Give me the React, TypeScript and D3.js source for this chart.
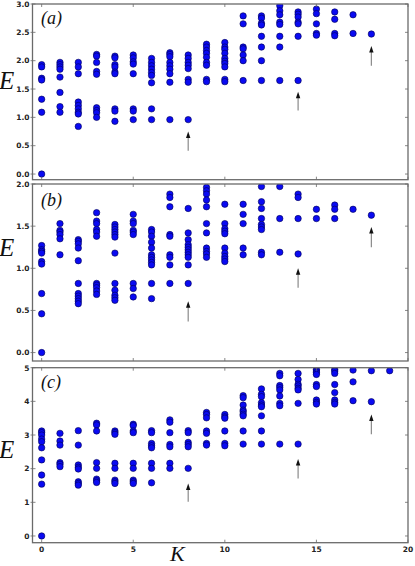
import React from 'react'
import * as d3 from 'd3'

// energies per K (index = K)
const energiesA = [
  [1.93, 1.89, 1.69, 1.66, 1.32, 1.09, 0.0],
  [1.97, 1.93, 1.89, 1.85, 1.71, 1.44, 1.19, 1.09],
  [1.97, 1.89, 1.77, 1.27, 1.21, 1.15, 1.09, 1.06, 0.84],
  [2.11, 2.08, 1.97, 1.81, 1.76, 1.17, 1.12, 1.08, 1.0],
  [2.08, 2.05, 1.93, 1.89, 1.8, 1.77, 1.15, 1.11, 0.93],
  [2.1, 2.05, 1.98, 1.94, 1.77, 1.15, 1.11, 0.96],
  [2.04, 1.97, 1.91, 1.85, 1.79, 1.74, 1.61, 1.15, 0.96],
  [2.14, 2.11, 2.07, 1.97, 1.91, 1.85, 1.77, 1.62, 0.96],
  [2.1, 2.04, 1.97, 1.92, 1.86, 1.67, 1.62, 0.96],
  [2.29, 2.24, 2.18, 2.13, 2.06, 1.97, 1.92, 1.67, 1.63],
  [2.32, 2.24, 2.2, 2.13, 2.04, 1.99, 1.95, 1.89, 1.67, 1.63],
  [2.79, 2.65, 2.24, 2.21, 2.1, 2.0, 1.65],
  [2.79, 2.75, 2.66, 2.63, 2.43, 2.24, 2.0, 1.65],
  [2.97, 2.88, 2.81, 2.68, 2.64, 2.43, 2.24, 1.65],
  [2.86, 2.82, 2.77, 2.68, 2.65, 2.43, 1.65],
  [2.91, 2.83, 2.65, 2.48, 2.45],
  [2.86, 2.73, 2.48, 2.44],
  [2.81, 2.48],
  [2.47],
]

const energiesB = [
  [1.27, 1.22, 1.2, 1.18, 1.08, 1.05, 0.7, 0.46, 0.0],
  [1.53, 1.45, 1.43, 1.4, 1.35, 1.16],
  [1.34, 1.32, 1.29, 1.24, 1.09, 0.82, 0.7, 0.67, 0.64, 0.61, 0.58],
  [1.66, 1.56, 1.53, 1.46, 1.43, 1.38, 0.82, 0.8, 0.77, 0.73, 0.69],
  [1.52, 1.49, 1.46, 1.43, 1.4, 1.37, 1.18, 0.82, 0.74, 0.68, 0.65, 0.62],
  [1.64, 1.56, 1.53, 1.45, 1.43, 1.4, 0.82, 0.76, 0.66],
  [1.46, 1.43, 1.38, 1.31, 1.24, 1.16, 1.13, 1.1, 1.07, 1.04, 0.82, 0.64],
  [1.88, 1.84, 1.73, 1.4, 1.38, 1.16, 1.13, 1.04, 0.82],
  [1.71, 1.42, 1.34, 1.28, 1.25, 1.22, 1.19, 1.16, 1.13, 1.04, 0.82],
  [1.96, 1.92, 1.88, 1.81, 1.73, 1.53, 1.42, 1.24, 1.2, 1.17, 1.13],
  [1.76, 1.53, 1.47, 1.44, 1.41, 1.24, 1.18, 1.14, 1.11, 1.08],
  [1.76, 1.64, 1.53, 1.24, 1.16],
  [1.97, 1.79, 1.71, 1.59, 1.52, 1.49, 1.46, 1.19, 1.16],
  [1.97, 1.59, 1.19],
  [1.88, 1.84, 1.59, 1.17],
  [1.7, 1.59],
  [1.75, 1.7, 1.59],
  [1.7],
  [1.63],
]

const energiesC = [
  [3.12, 3.07, 3.0, 2.88, 2.8, 2.62, 2.26, 1.81, 1.54, 0.0],
  [3.05, 2.82, 2.7, 2.18, 2.13, 2.06],
  [3.13, 2.7, 2.11, 2.04, 1.99, 1.61, 1.56, 1.51],
  [3.35, 3.3, 3.12, 2.18, 2.01, 1.69, 1.64, 1.59],
  [3.12, 3.07, 3.02, 2.16, 2.01, 1.66, 1.61, 1.56],
  [3.32, 3.28, 3.12, 3.07, 2.16, 2.01, 1.66, 1.61, 1.56],
  [3.13, 3.07, 2.75, 2.68, 2.62, 2.16, 2.01, 1.58],
  [3.45, 3.38, 3.07, 2.72, 2.65, 2.16, 2.01],
  [3.13, 3.07, 2.78, 2.72, 2.65, 2.01],
  [3.67, 3.61, 3.51, 3.12, 3.05, 2.75, 2.7],
  [3.61, 3.54, 3.5, 3.12, 2.75, 2.68],
  [4.17, 4.11, 3.89, 3.74, 3.69, 3.62, 3.57, 3.12, 2.73],
  [4.37, 4.21, 4.14, 3.96, 3.89, 3.84, 3.57, 3.12, 2.73],
  [4.83, 4.76, 4.47, 4.41, 4.34, 4.16, 3.94, 3.87, 2.73],
  [4.83, 4.65, 4.51, 4.46, 4.39, 4.34, 3.94, 2.73],
  [4.95, 4.9, 4.85, 4.8, 4.5, 4.44, 4.04, 3.97, 3.92],
  [4.95, 4.9, 4.83, 4.5, 4.26, 4.04, 3.97, 3.92],
  [4.93, 4.58, 4.02],
  [4.91, 3.99],
  [4.91],
]

// arrows: [K, tail E, head E]
const arrowsA = [[8, 0.41, 0.75], [14, 1.12, 1.45], [18, 1.91, 2.26]]
const arrowsB = [[8, 0.37, 0.61], [14, 0.77, 1.0], [18, 1.25, 1.49]]
const arrowsC = [[8, 1.02, 1.56], [14, 1.71, 2.29], [18, 3.02, 3.61]]

const ticksA = [0, 0.5, 1.0, 1.5, 2.0, 2.5, 3.0]
const ticksB = [0, 0.5, 1.0, 1.5, 2.0]
const ticksC = [0, 1, 2, 3, 4, 5]
const ticksK = [0, 5, 10, 15, 20]

const W = 415
const H = 566
const left = 32.5
const right = 408
const frameColor = '#6a6a6a'

const xScale = d3.scaleLinear().domain([-0.5, 20]).range([left, right])

const panels = [
  { id: 'a', label: '(a)', data: energiesA, arrows: arrowsA, ticks: ticksA, fmt: d3.format('.1f'), domain: [-0.1, 3.0], top: 4, bottom: 179.7, eY: 89, labelY: 24 },
  { id: 'b', label: '(b)', data: energiesB, arrows: arrowsB, ticks: ticksB, fmt: d3.format('.1f'), domain: [-0.1, 2.0], top: 184, bottom: 361, eY: 256, labelY: 206 },
  { id: 'c', label: '(c)', data: energiesC, arrows: arrowsC, ticks: ticksC, fmt: d3.format('d'), domain: [-0.2, 5.0], top: 367.7, bottom: 542.7, eY: 458, labelY: 388 },
]

const Panel = ({ p, last }) => {
  const y = d3.scaleLinear().domain(p.domain).range([p.bottom, p.top])
  const points = p.data.flatMap((col, k) => col.map(e => [k, e]))
  return (
    <g>
      <defs>
        <clipPath id={`clip-${p.id}`}>
          <rect x={left} y={p.top} width={right - left} height={p.bottom - p.top} />
        </clipPath>
      </defs>
      <g clipPath={`url(#clip-${p.id})`}>
        {points.map(([k, e], i) => (
          <circle key={i} cx={xScale(k)} cy={y(e)} r={3.2} fill="#0a0af2" stroke="#000050" strokeWidth={0.6} />
        ))}
      </g>
      {p.arrows.map(([k, t, h], i) => {
        const x = xScale(k)
        const y0 = y(t)
        const y1 = y(h)
        return (
          <g key={i}>
            <line x1={x} x2={x} y1={y0} y2={y1 + 5} stroke="#8a8a8a" strokeWidth={1.2} />
            <path d={`M${x},${y1} L${x - 2.2},${y1 + 6.5} L${x + 2.2},${y1 + 6.5} Z`} fill="#111" />
          </g>
        )
      })}
      {p.ticks.map(t => (
        <g key={t}>
          <line x1={left - 2} x2={left + 3} y1={y(t)} y2={y(t)} stroke={frameColor} strokeWidth={0.8} />
          <line x1={right - 3} x2={right} y1={y(t)} y2={y(t)} stroke={frameColor} strokeWidth={0.8} />
          <text x={29.5} y={y(t) + 2.8} textAnchor="end" fontFamily="DejaVu Sans" fontWeight="bold" fontSize={7.5} fill="#222">
            {p.fmt(t)}
          </text>
        </g>
      ))}
      {ticksK.map(t => (
        <g key={t}>
          <line x1={xScale(t)} x2={xScale(t)} y1={p.top} y2={p.top + 3} stroke={frameColor} strokeWidth={0.8} />
          <line x1={xScale(t)} x2={xScale(t)} y1={p.bottom - 3} y2={p.bottom} stroke={frameColor} strokeWidth={0.8} />
          {last && (
            <text x={xScale(t)} y={p.bottom + 9.5} textAnchor="middle" fontFamily="DejaVu Sans" fontWeight="bold" fontSize={7.5} fill="#222">
              {t}
            </text>
          )}
        </g>
      ))}
      <rect x={left} y={p.top} width={right - left} height={p.bottom - p.top} fill="none" stroke={frameColor} strokeWidth={1.3} />
      <text x={41} y={p.labelY} fontFamily="Liberation Serif" fontStyle="italic" fontSize={18} fill="#111">
        {p.label}
      </text>
      <text x={-1} y={p.eY} fontFamily="Liberation Serif" fontStyle="italic" fontSize={25} fill="#111">
        E
      </text>
    </g>
  )
}

export default function App() {
  return (
    <svg width={W} height={H} style={{ position: 'absolute', left: 0, top: 0, background: '#fff' }}>
      <rect width={W} height={H} fill="#fff" />
      {panels.map((p, i) => (
        <Panel key={p.id} p={p} last={i === panels.length - 1} />
      ))}
      <text x={170} y={560.5} fontFamily="Liberation Serif" fontStyle="italic" fontSize={22} fill="#111">
        K
      </text>
    </svg>
  )
}
